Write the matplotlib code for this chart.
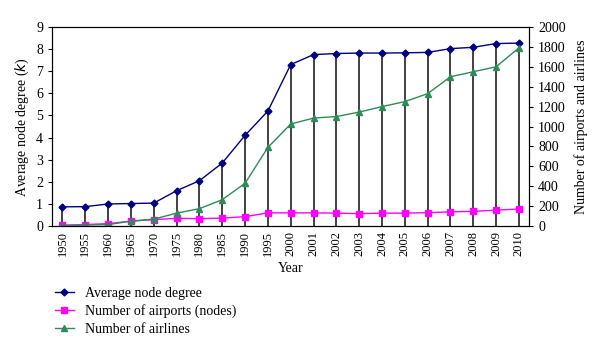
import matplotlib.pyplot as plt
import numpy as np

plt.rcParams['font.family'] = ['Liberation Serif', 'DejaVu Serif']

years = ["1950", "1955", "1960", "1965", "1970", "1975", "1980", "1985", "1990", "1995",
         "2000", "2001", "2002", "2003", "2004", "2005", "2006", "2007", "2008", "2009", "2010"]
avg_degree = [0.87, 0.88, 1.0, 1.02, 1.04, 1.6, 2.05, 2.85, 4.1, 5.2,
              7.3, 7.75, 7.8, 7.82, 7.82, 7.83, 7.85, 8.02, 8.08, 8.25, 8.27]
airports = [10, 15, 25, 50, 65, 78, 75, 80, 95, 133,
            133, 133, 130, 125, 130, 130, 135, 143, 148, 160, 172]
airlines = [5, 10, 15, 50, 70, 130, 175, 265, 430, 790,
            1025, 1085, 1100, 1145, 1200, 1250, 1330, 1500, 1550, 1600, 1790]

x = np.arange(len(years))

fig = plt.figure(figsize=(6, 3.5), dpi=100)
ax = fig.add_axes([0.087, 0.354, 0.795, 0.569])
ax2 = ax.twinx()

ax.vlines(x, 0, avg_degree, color="#333333", linewidth=1.3, zorder=1)
l1, = ax.plot(x, avg_degree, color="#000080", marker="D", markersize=3.5,
              linewidth=1, zorder=3, label="Average node degree")
l2, = ax2.plot(x, airports, color="#ff00ff", marker="s", markersize=5,
               linewidth=1, label="Number of airports (nodes)")
l3, = ax2.plot(x, airlines, color="#2e8b57", marker="^", markersize=4,
               linewidth=1, label="Number of airlines")

ax.set_xlim(-0.45, len(years) - 0.55)
ax.set_ylim(0, 9)
ax2.set_ylim(0, 2000)
ax.set_yticks(range(0, 10))
ax2.set_yticks(range(0, 2001, 200))
ax.set_xticks(x)
ax.set_xticklabels(years, rotation=90)
ax.tick_params(axis="x", length=0, labelsize=9)
ax.tick_params(axis="y", labelsize=10, length=3)
ax2.tick_params(axis="y", labelsize=10, length=3)

ax.set_xlabel("Year", fontsize=10)
ax.set_ylabel("Average node degree ($k$)", fontsize=10)
ax2.set_ylabel("Number of airports and airlines", fontsize=10, labelpad=6)

fig.legend(handles=[l1, l2, l3], loc="upper left", bbox_to_anchor=(0.07, 0.215),
           frameon=False, fontsize=10, handlelength=1.4, handletextpad=0.8,
           labelspacing=0.3)

fig.savefig("out.png", dpi=100)
